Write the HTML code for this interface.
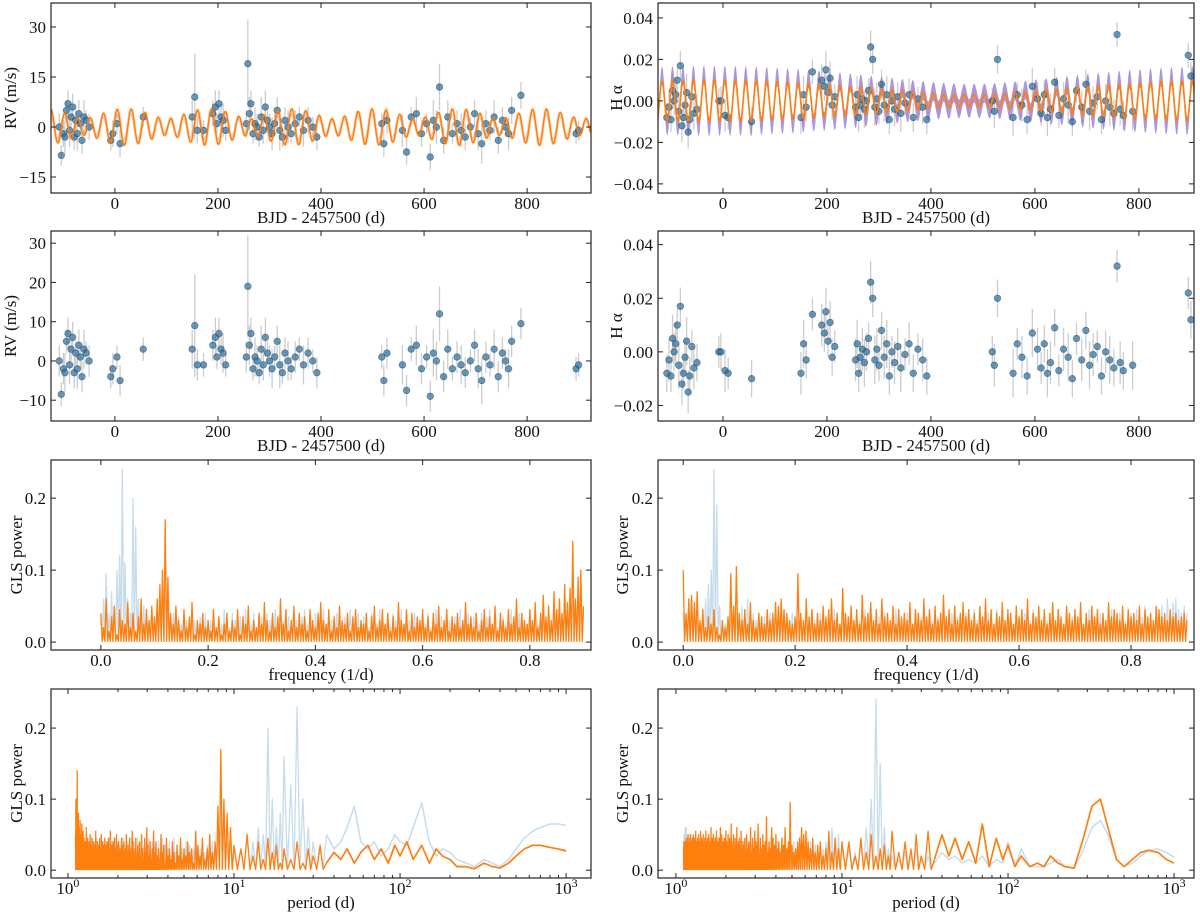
<!DOCTYPE html>
<html><head><meta charset="utf-8"><style>
html,body{margin:0;padding:0;background:#fff;}
svg{display:block;font-family:"Liberation Serif",serif;}
</style></head><body>
<svg id="fig" width="1200" height="914" viewBox="0 0 1200 914" xmlns="http://www.w3.org/2000/svg"></svg>
<script>
// ---------- data ----------
const obsTimes=[-108,-104,-100,-97,-94,-91,-88,-85,-82,-79,-76,-73,-70,-67,-64,-60,-56,-50,-8,-4,4,10,55,
150,155,160,172,190,195,198,202,206,210,215,
255,258,261,264,268,272,276,280,284,288,292,296,300,305,310,315,320,325,330,336,342,350,358,366,375,384,392,
518,522,528,558,566,575,585,595,605,612,618,624,630,638,646,655,664,672,680,690,698,705,712,720,728,736,744,752,758,764,770,788,895,900];
const rvValues=[0,-8.5,-2,-3,5,7,-1,3,6,-3,2,-2,4,1,-4,3,2,0,-4,-2,1,-5,3,
3,9,-1,-1,4,6,1,7,3,2,-1,
1,19,4,7,-2,1,0,-3,3,-1,6,2,0,-2,1,5,-1,-3,2,0,-2,1,3,-1,2,0,-3,
1,-5,2,-1,-7.5,3,4,-2,1,-9,2,0,12,-4,3,-2,1,-1,-3,0,4,-2,-5,1,-1,3,-4,2,0,-2,5,9.5,-2,-1];
const rvErrors=[4,3,4,5,3,4,5,3,4,4,3,5,4,3,4,5,3,4,3,4,3,4,3,
5,13,4,3,4,5,3,4,4,5,3,
4,13,5,4,3,5,4,3,6,4,5,3,4,5,3,4,6,3,4,5,3,4,3,5,4,3,4,
3,4,4,5,4,3,5,4,3,4,6,5,7,4,5,3,4,5,4,3,4,5,6,4,3,5,4,4,3,5,4,4,3,3];
const haValues=[-8,-3,-9,5,0,3,10,-5,17,-12,-8,-2,4,-15,-9,2,-6,-4,0,0,-7,-8,-10,
-8,3,-3,14,10,7,15,4,11,-2,2,
-3,3,-8,-2,1,-4,0,5,26,20,-3,1,-5,8,-2,3,-9,0,-4,2,-6,-1,3,-8,1,-3,-9,
0,-5,20,-8,3,-2,-9,7,1,-6,3,-8,-4,9,-7,1,-2,-10,5,-3,8,-5,-1,2,-9,0,-3,-6,32,-4,-7,-5,22,12].map(v=>v/1000);
const haErrors=[7,8,6,9,7,8,6,9,7,8,6,7,9,8,7,6,8,7,6,7,8,6,7,
8,9,7,6,8,7,9,6,8,7,6,
8,9,7,6,8,9,7,6,8,7,9,8,6,7,8,9,7,6,8,7,9,6,8,7,6,8,7,
6,8,7,9,6,8,7,9,8,6,7,9,8,7,6,8,9,7,6,8,7,9,8,6,7,8,9,7,6,8,7,9,6,7].map(v=>v/1000);
// model sinusoid parameters
const rvModelPeriods=[26,31]; const rvModelAmps=[4,1.5]; const rvModelPhases=[0.3,1.1];
const haModelPeriods=[20,20.41]; const haModelAmps=[0.0065,0.0035]; const haModelPhases=[0.5,0.37];
// periodograms (frequency grid 0..0.9 step 0.005), values in thousandths
const freqStep=0.005;
const glsRvOrange=[40,20,60,15,35,50,10,45,30,25,55,20,40,15,35,60,25,45,30,50,
35,60,80,100,170,90,40,25,50,30,15,45,20,35,55,10,30,25,40,20,
30,15,45,20,35,10,25,40,15,30,20,45,10,35,25,50,15,30,20,40,
25,55,30,15,40,20,35,60,25,45,15,30,50,20,40,25,35,15,45,30,
20,40,55,30,25,45,15,35,20,50,30,25,40,15,35,45,20,30,25,40,
15,35,50,20,30,45,25,40,15,35,20,55,30,25,45,15,40,20,35,30,
45,20,35,15,40,25,50,20,30,45,15,35,25,40,20,30,55,25,35,20,
40,15,30,45,20,35,25,50,15,40,30,20,45,25,35,60,20,40,30,25,
45,30,55,20,40,65,35,50,30,70,45,60,40,80,55,75,140,60,90,100,50];
const glsRvBlue=[30,60,95,40,70,50,100,120,240,110,60,40,200,160,60,30,50,40,25,45,
30,50,40,60,90,50,30,40,20,35,25,40,30,20,45,30,25,35,20,40,
25,30,40,20,35,25,45,30,20,40,30,25,35,20,45,30,25,40,20,30,
35,25,40,30,20,45,25,55,30,20,35,25,40,30,20,35,45,25,30,20,
40,30,25,45,20,35,30,25,40,30,20,35,25,45,30,20,40,25,35,30,
20,40,30,25,45,30,20,35,25,40,30,20,45,25,35,30,20,40,25,30,
35,25,40,20,30,45,25,35,20,40,30,25,35,20,45,30,25,40,20,35,
30,25,40,20,35,45,25,30,20,40,35,25,30,45,20,35,40,25,30,20,
40,30,45,25,35,50,30,40,25,45,35,50,30,60,40,55,80,45,60,90,40];
const glsHaOrange=[100,40,60,65,55,70,30,45,20,35,25,45,20,10,30,20,35,95,50,105,
40,30,45,25,55,30,20,40,35,25,45,30,40,55,50,60,45,40,30,25,
35,95,40,30,60,35,45,25,40,30,50,35,45,60,30,40,25,75,40,35,
50,30,45,25,65,35,40,55,30,45,25,60,35,40,30,50,25,45,35,40,
30,55,25,45,40,30,60,35,45,25,50,30,40,65,35,45,25,50,30,40,
55,35,45,30,40,25,50,35,60,30,45,25,40,35,55,30,45,40,25,50,
35,45,30,60,25,40,35,50,30,45,25,40,55,30,45,35,25,50,40,30,
45,35,55,25,40,30,50,35,45,25,40,30,55,35,45,40,30,50,25,45,
35,40,30,50,25,45,35,40,30,50,45,35,40,30,45,35,40,30,35,40,30];
const glsHaBlue=[40,30,35,45,40,30,25,40,60,80,100,240,190,50,30,25,30,40,35,40,
30,50,40,60,50,40,30,40,20,35,25,40,30,20,45,30,25,35,20,40,
25,30,40,20,35,25,45,30,20,40,30,25,35,20,45,30,25,40,20,30,
35,25,40,30,20,45,25,55,30,20,35,25,40,30,20,35,45,25,30,20,
40,30,25,45,20,35,30,25,40,30,20,35,25,45,30,20,40,25,35,30,
20,40,30,25,45,30,20,35,25,40,30,20,45,25,35,30,20,40,25,30,
35,25,40,20,30,45,25,35,20,40,30,25,35,20,45,30,25,40,20,35,
30,25,40,20,35,45,25,30,20,40,35,25,30,45,20,35,40,25,30,20,
40,30,45,25,35,50,30,40,25,45,35,50,30,60,40,55,60,45,40,50,40];
// long-period part of the period periodograms
const longPeriods=[10,11,12,13,14,15,16,17,18,19,20,22,24,26,28,30,33,36,40,44,48,53,58,64,70,77,85,93,100,110,120,135,150,165,180,200,220,250,280,320,360,400,450,500,560,630,700,800,900,1000];
const longRvOrange=[60,30,50,20,40,15,45,25,35,10,30,15,40,10,30,20,35,10,25,15,30,10,25,35,15,30,10,35,20,40,15,35,10,30,20,15,5,5,2,10,5,3,10,20,30,35,35,32,30,27];
const longRvBlue=[40,30,50,40,60,50,200,100,60,80,160,120,230,100,60,40,30,50,30,40,60,90,40,30,40,20,30,50,40,35,60,95,40,20,30,25,15,10,5,15,10,5,15,30,45,55,60,65,65,63];
const longHaOrange=[30,40,20,45,25,50,20,30,35,20,55,25,40,30,50,20,55,15,50,20,45,15,40,10,65,5,45,15,35,5,20,5,10,5,20,10,5,3,40,90,100,60,15,5,15,25,28,25,15,10];
const longHaBlue=[20,30,25,40,60,100,240,150,60,30,20,15,25,20,30,15,20,10,25,15,20,10,15,10,20,5,15,10,40,5,30,5,5,5,10,15,5,3,25,60,70,50,15,5,10,20,28,30,25,18];

// ---------- helpers ----------
const NS="http://www.w3.org/2000/svg";
const fig=document.getElementById('fig');
function mk(tag,attrs,parent){const e=document.createElementNS(NS,tag);for(const k in attrs)e.setAttribute(k,attrs[k]);(parent||fig).appendChild(e);return e;}
const ORANGE="#ff7f0e", BLUE="#c6dcec", PURPLE="#9370cf";
function fmtMinus(s){return s.replace('-','\u2212');}

function makePanel(name,box,xr,yr,logx){
  const g=mk('g',{});
  
  
  const [x0,y0,x1,y1]=box;
  const sx=logx?(v=>x0+(Math.log10(v)-xr[0])/(xr[1]-xr[0])*(x1-x0)):(v=>x0+(v-xr[0])/(xr[1]-xr[0])*(x1-x0));
  const sy=v=>y1-(v-yr[0])/(yr[1]-yr[0])*(y1-y0);
  const cid='clip'+name;
  const cp=mk('clipPath',{id:cid},g);mk('rect',{x:x0,y:y0,width:x1-x0,height:y1-y0},cp);
  const plot=mk('g',{'clip-path':'url(#'+cid+')'},g);
  return {g,plot,sx,sy,box};
}
function frame(p){
  const [x0,y0,x1,y1]=p.box;
  const r=mk('rect',{x:x0,y:y0,width:x1-x0,height:y1-y0,fill:'none',stroke:'#222','stroke-width':1.2},p.g);
  
  
}
function xTicks(p,vals,labels,minor){
  const [x0,y0,x1,y1]=p.box;
  vals.forEach((v,i)=>{const x=p.sx(v);
    mk('line',{x1:x,x2:x,y1:y1,y2:y1-5,stroke:'#222'},p.g);
    mk('line',{x1:x,x2:x,y1:y0,y2:y0+5,stroke:'#222'},p.g);
    const t=mk('text',{x:x,y:y1+16,'text-anchor':'middle','font-size':17,fill:'#111'},p.g);
    
    
    if(typeof labels[i]==='object'){t.textContent=labels[i][0];const s=mk('tspan',{dy:-7,'font-size':12},t);s.textContent=labels[i][1];}
    else t.textContent=fmtMinus(labels[i]);
  });
  (minor||[]).forEach(v=>{const x=p.sx(v);
    mk('line',{x1:x,x2:x,y1:y1,y2:y1-3,stroke:'#222'},p.g);
    mk('line',{x1:x,x2:x,y1:y0,y2:y0+3,stroke:'#222'},p.g);});
}
function yTicks(p,vals,labels){
  const [x0,y0,x1,y1]=p.box;
  vals.forEach((v,i)=>{const y=p.sy(v);
    mk('line',{x1:x0,x2:x0+5,y1:y,y2:y,stroke:'#222'},p.g);
    mk('line',{x1:x1,x2:x1-5,y1:y,y2:y,stroke:'#222'},p.g);
    const t=mk('text',{x:x0-5,y:y+6,'text-anchor':'end','font-size':17,fill:'#111'},p.g);
    
    
    t.textContent=fmtMinus(labels[i]);});
}
function labels(p,xl,yl,ylx){
  const [x0,y0,x1,y1]=p.box;
  const t=mk('text',{x:(x0+x1)/2,y:y1+30,'text-anchor':'middle','font-size':17,fill:'#111'},p.g);
  
  
  t.textContent=xl;
  const cy=(y0+y1)/2;
  const u=mk('text',{x:ylx,y:cy,'text-anchor':'middle','font-size':17,fill:'#111',transform:'rotate(-90 '+ylx+' '+cy+')'},p.g);
  
  
  u.textContent=yl;
}
function scatter(p,xs,ys,es){
  xs.forEach((t,i)=>{
    const l=mk('line',{x1:p.sx(t),x2:p.sx(t),y1:p.sy(ys[i]-es[i]),y2:p.sy(ys[i]+es[i]),stroke:'#999','stroke-opacity':0.5,'stroke-width':1.3},p.plot);
    
    
  });
  xs.forEach((t,i)=>{
    const c=mk('circle',{cx:p.sx(t),cy:p.sy(ys[i]),r:3.3,fill:'#2a6f9e','fill-opacity':0.7,stroke:'#1a3a55','stroke-opacity':0.5,'stroke-width':0.8},p.plot);
    
    
  });
}
function modelVal(t,P,A,Ph){let s=0;for(let k=0;k<P.length;k++)s+=A[k]*Math.sin(2*Math.PI*t/P[k]+Ph[k]);return s;}
function line(p,xs,ys,color,w,name,op){
  const pts=xs.map((x,i)=>p.sx(x).toFixed(1)+','+p.sy(ys[i]).toFixed(1)).join(' ');
  const l=mk('polyline',{points:pts,fill:'none',stroke:color,'stroke-width':w,'stroke-opacity':op||1,'stroke-linejoin':'round'},p.plot);
  
  
}
// spiky rendering: each sample is drawn as a spike dropping to the noise floor
function spikes(p,xs,ys,color,w,name,floor,logMid){
  const px=[],py=[];
  for(let i=0;i<xs.length;i++){
    px.push(xs[i]);py.push(ys[i]);
    if(i<xs.length-1){const m=logMid?Math.sqrt(xs[i]*xs[i+1]):(xs[i]+xs[i+1])/2;px.push(m);py.push(floor);}
  }
  line(p,px,py,color,w,name);
}
const freqs=glsRvOrange.map((_,i)=>i*freqStep);

const L=[51,591], R=[658,1194];
const rows=[[3,193],[231,421],[460,650],[689,878]];
const xt=[0,200,400,600,800], xtl=['0','200','400','600','800'];

// Row 1 left: RV with model
{const p=makePanel('rv-model-panel',[L[0],rows[0][0],L[1],rows[0][1]],[-124,924],[-19.8,37.2]);
 const tt=[];const mm=[];const mp=[];for(let t=-124;t<=924;t+=1.5){tt.push(t);mm.push(modelVal(t,rvModelPeriods,rvModelAmps,rvModelPhases));mp.push(modelVal(t,rvModelPeriods,rvModelAmps.map(a=>a*0.7),rvModelPhases.map(a=>a+0.25)));}
 line(p,tt,mp,PURPLE,1.2,'model-band',0.45);
 line(p,tt,mm,'#ffc896',3,'model-uncertainty',0.6);
 scatter(p,obsTimes,rvValues,rvErrors);
 line(p,tt,mm,ORANGE,1.5,'rv-model-line');
 frame(p);xTicks(p,xt,xtl);yTicks(p,[-15,0,15,30],['-15','0','15','30']);labels(p,'BJD - 2457500 (d)','RV (m/s)',16);}
// Row 1 right: Halpha with model
{const p=makePanel('ha-model-panel',[R[0],rows[0][0],R[1],rows[0][1]],[-125,906],[-0.0444,0.0472]);
 const tt=[];const mm=[];for(let t=-135;t<=916;t+=1){tt.push(t);mm.push(modelVal(t,haModelPeriods,haModelAmps,haModelPhases));}
 const up=mm.map(m=>1.25*m+0.0045), lo=mm.map(m=>1.25*m-0.0045);
 const pts=tt.map((t,i)=>p.sx(t).toFixed(1)+','+p.sy(up[i]).toFixed(1)).concat(tt.slice().reverse().map((t,i)=>p.sx(t).toFixed(1)+','+p.sy(lo[lo.length-1-i]).toFixed(1))).join(' ');
 const band=mk('polygon',{points:pts,fill:PURPLE,'fill-opacity':0.75,stroke:'none'},p.plot);
 
 
 scatter(p,obsTimes,haValues,haErrors);
 line(p,tt,mm,ORANGE,1.6,'ha-model-line');
 frame(p);xTicks(p,xt,xtl);yTicks(p,[-0.04,-0.02,0,0.02,0.04],['-0.04','-0.02','0.00','0.02','0.04']);labels(p,'BJD - 2457500 (d)','H \u03b1',622);}
// Row 2
{const p=makePanel('rv-data-panel',[L[0],rows[1][0],L[1],rows[1][1]],[-124,924],[-15.3,33.1]);
 scatter(p,obsTimes,rvValues,rvErrors);
 frame(p);xTicks(p,xt,xtl);yTicks(p,[-10,0,10,20,30],['-10','0','10','20','30']);labels(p,'BJD - 2457500 (d)','RV (m/s)',16);}
{const p=makePanel('ha-data-panel',[R[0],rows[1][0],R[1],rows[1][1]],[-125,906],[-0.0258,0.0451]);
 scatter(p,obsTimes,haValues,haErrors);
 frame(p);xTicks(p,xt,xtl);yTicks(p,[-0.02,0,0.02,0.04],['-0.02','0.00','0.02','0.04']);labels(p,'BJD - 2457500 (d)','H \u03b1',622);}
// Row 3 frequency periodograms
const ft=[0,0.2,0.4,0.6,0.8], ftl=['0.0','0.2','0.4','0.6','0.8'];
function freqPanel(name,col,xr,blue,orange,ylx){
  const p=makePanel(name,[col[0],rows[2][0],col[1],rows[2][1]],xr,[-0.011,0.253]);
  spikes(p,freqs,blue.map(v=>v/1000),BLUE,1.3,'gls-blue',0.002,false);
  spikes(p,freqs,orange.map(v=>v/1000),ORANGE,1.3,'gls-orange',0.001,false);
  frame(p);xTicks(p,ft,ftl);yTicks(p,[0,0.1,0.2],['0.0','0.1','0.2']);labels(p,'frequency (1/d)','GLS power',ylx);
}
freqPanel('rv-frequency-periodogram',L,[-0.093,0.914],glsRvBlue,glsRvOrange,22);
freqPanel('ha-frequency-periodogram',R,[-0.045,0.9125],glsHaBlue,glsHaOrange,628);
// Row 4 period periodograms
const minorP=[];for(let d=0;d<3;d++)for(let k=2;k<10;k++)minorP.push(k*Math.pow(10,d));
function periodPanel(name,col,xr,blue,orange,lb,lo,ylx){
  const p=makePanel(name,[col[0],rows[3][0],col[1],rows[3][1]],xr,[-0.011,0.255],true);
  function build(arr,longArr){const ps=[],vs=[];for(let i=arr.length-1;i>=20;i--){ps.push(1/freqs[i]);vs.push(arr[i]/1000);}
    const sp=[],sv=[];
    longPeriods.forEach((P,i)=>{if(P>10&&P<40){ps.push(P);vs.push(longArr[i]/1000);}else if(P>=40){sp.push(P);sv.push(longArr[i]/1000);}});
    return [ps,vs,sp,sv];}
  const b=build(blue,lb), o=build(orange,lo);
  spikes(p,b[0],b[1],BLUE,1.3,'gls-period-blue-dense',0.002,true);
  line(p,[b[0][b[0].length-1]].concat(b[2]),[b[1][b[1].length-1]].concat(b[3]),BLUE,1.5,'gls-period-blue-smooth');
  spikes(p,o[0],o[1],ORANGE,1.3,'gls-period-orange-dense',0.001,true);
  line(p,[o[0][o[0].length-1]].concat(o[2]),[o[1][o[1].length-1]].concat(o[3]),ORANGE,1.7,'gls-period-orange-smooth');
  frame(p);xTicks(p,[1,10,100,1000],[['10','0'],['10','1'],['10','2'],['10','3']],minorP);
  yTicks(p,[0,0.1,0.2],['0.0','0.1','0.2']);labels(p,'period (d)','GLS power',ylx);
}
periodPanel('rv-period-periodogram',L,[-0.102,3.15],glsRvBlue,glsRvOrange,longRvBlue,longRvOrange,22);
periodPanel('ha-period-periodogram',R,[-0.108,3.12],glsHaBlue,glsHaOrange,longHaBlue,longHaOrange,628);
</script>
</body></html>
